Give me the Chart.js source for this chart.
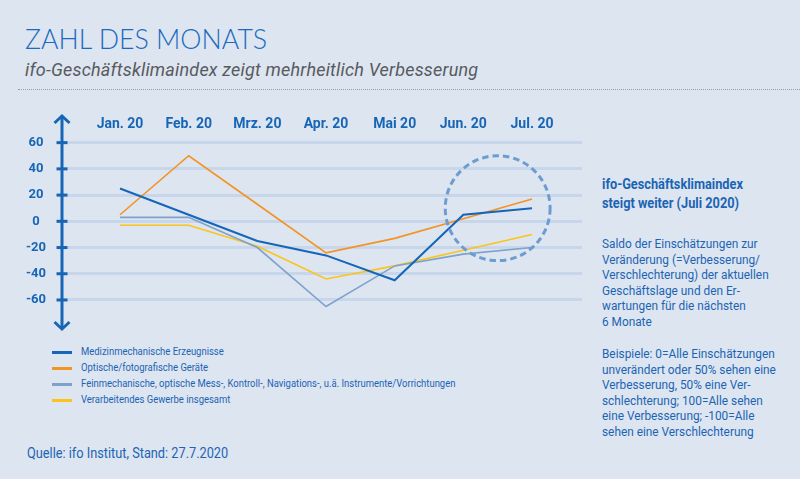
<!DOCTYPE html>
<html lang="de">
<head>
<meta charset="utf-8">
<title>Zahl des Monats</title>
<script src="https://cdn.jsdelivr.net/npm/chart.js@4"></script>
<style>
  html, body { margin: 0; padding: 0; }
  body {
    width: 800px; height: 479px; overflow: hidden; position: relative;
    background: #dde5f0; font-family: Roboto, "Noto Sans", sans-serif; color: #1b64b4;
  }
  .abs { position: absolute; white-space: nowrap; }
  #title { left: 25px; top: 24px; font-family: Lato, sans-serif; font-weight: 300; font-size: 28px; line-height: 28px; color: #1a6bbf; transform: scaleX(0.955); transform-origin: left top; }
  #subtitle { left: 25px; top: 59px; font-size: 18px; line-height: 22px; font-style: italic; color: #585a5e; letter-spacing: 0.2px; }
  #rule { left: 18px; top: 89px; width: 782px; border-top: 1px dotted #9a9ea4; }
  #chart { left: 0; top: 100px; }
  #legend { left: 52px; top: 344px; font-size: 11px; line-height: 16px; }
  #legend .row { display: flex; align-items: center; height: 16px; }
  #legend .swatch { width: 20px; height: 3px; margin-right: 9px; }
  #legend .lbl { display: inline-block; transform: scaleX(0.86); transform-origin: left center; }
  #side { left: 602px; top: 175px; }
  #side h2 { margin: 0 0 24px 0; font-size: 14.5px; line-height: 19px; font-weight: bold; transform: scaleX(0.88); transform-origin: left top; }
  #side p { margin: 0 0 16.5px 0; font-size: 12.3px; line-height: 15.6px; transform: scaleX(0.962); transform-origin: left top; }
  #source { left: 27px; top: 444px; font-size: 15px; line-height: 18px; transform: scaleX(0.85); transform-origin: left top; }
</style>
</head>
<body>
<div id="title" class="abs">ZAHL DES MONATS</div>
<div id="subtitle" class="abs">ifo-Geschäftsklimaindex zeigt mehrheitlich Verbesserung</div>
<div id="rule" class="abs"></div>
<canvas id="chart" class="abs" width="590" height="240"></canvas>
<div id="legend" class="abs"></div>
<div id="side" class="abs">
  <h2>ifo-Geschäftsklimaindex<br>steigt weiter (Juli 2020)</h2>
  <p>Saldo der Einschätzungen zur<br>Veränderung (=Verbesserung/<br>Verschlechterung) der aktuellen<br>Geschäftslage und den Er-<br>wartungen für die nächsten<br>6 Monate</p>
  <p>Beispiele: 0=Alle Einschätzungen<br>unverändert oder 50% sehen eine<br>Verbesserung, 50% eine Ver-<br>schlechterung; 100=Alle sehen<br>eine Verbesserung; -100=Alle<br>sehen eine Verschlechterung</p>
</div>
<div id="source" class="abs">Quelle: ifo Institut, Stand: 27.7.2020</div>

<script>
// months and index values (Saldo)
const months = ['Jan. 20', 'Feb. 20', 'Mrz. 20', 'Apr. 20', 'Mai 20', 'Jun. 20', 'Jul. 20'];
const yTicks = [-60, -40, -20, 0, 20, 40, 60];

const seriesNames = [
  'Medizinmechanische Erzeugnisse',
  'Optische/fotografische Geräte',
  'Feinmechanische, optische Mess-, Kontroll-, Navigations-, u.ä. Instrumente/Vorrichtungen',
  'Verarbeitendes Gewerbe insgesamt'
];
const medizin = [25, 5, -15, -26, -45, 5, 10];
const optisch = [5, 50, 13, -24, -13, 2, 17];
const feinmech = [3, 3, -20, -65, -34, -25, -20];
const gewerbe = [-3, -3, -19, -44, -34, -22, -10];

// highlighted area (month index, value, radius in value units)
const highlight = { x: 5.5, y: 10, r: 40 };

const seriesColors = ['#1565b8', '#f39322', '#7ea2cc', '#fcc419'];
const seriesWidths = [2, 1.6, 1.6, 1.6];
const axisBlue = '#1766b6';

const allSeries = [medizin, optisch, feinmech, gewerbe];

// html legend
const legendEl = document.getElementById('legend');
seriesNames.forEach((name, i) => {
  const row = document.createElement('div');
  row.className = 'row';
  row.innerHTML = `<span class="swatch" style="background:${seriesColors[i]}"></span><span class="lbl">${name}</span>`;
  legendEl.appendChild(row);
});

// arrow axis, tick marks and dashed circle
const decorations = {
  id: 'decorations',
  afterDatasetsDraw(chart) {
    const { ctx, scales: { x, y } } = chart;
    const cx = x.getPixelForValue(highlight.x);
    const cy = y.getPixelForValue(highlight.y);
    const r = Math.abs(y.getPixelForValue(highlight.y + highlight.r) - cy);
    ctx.save();
    ctx.strokeStyle = '#6c9dd0';
    ctx.lineWidth = 3;
    ctx.setLineDash([6.5, 4]);
    ctx.beginPath();
    ctx.arc(cx, cy, r, 0, Math.PI * 2);
    ctx.stroke();
    ctx.restore();
  },
  afterDraw(chart) {
    const { ctx, chartArea, scales: { y } } = chart;
    const ax = chartArea.left;
    const top = 15, bottom = chartArea.bottom;
    ctx.save();
    ctx.strokeStyle = axisBlue;
    ctx.lineWidth = 3;
    ctx.lineCap = 'butt';
    ctx.beginPath();
    ctx.moveTo(ax, top + 1);
    ctx.lineTo(ax, bottom - 1);
    ctx.stroke();
    ctx.lineJoin = 'miter';
    ctx.beginPath();
    ctx.moveTo(ax - 7.5, top + 8);
    ctx.lineTo(ax, top + 1);
    ctx.lineTo(ax + 7.5, top + 8);
    ctx.moveTo(ax - 7.5, bottom - 8);
    ctx.lineTo(ax, bottom - 1);
    ctx.lineTo(ax + 7.5, bottom - 8);
    ctx.stroke();
    yTicks.forEach(v => {
      const py = y.getPixelForValue(v);
      ctx.beginPath();
      ctx.moveTo(ax - 5.5, py);
      ctx.lineTo(ax + 5.5, py);
      ctx.stroke();
    });
    ctx.restore();
  }
};

new Chart(document.getElementById('chart'), {
  type: 'line',
  data: {
    datasets: allSeries.map((vals, i) => ({
      label: seriesNames[i],
      data: vals.map((v, k) => ({ x: k, y: v })),
      borderColor: seriesColors[i],
      borderWidth: seriesWidths[i],
      pointRadius: 0,
      tension: 0,
      fill: false
    }))
  },
  options: {
    responsive: false,
    animation: false,
    devicePixelRatio: 1,
    layout: { padding: { top: 0, right: 8, bottom: 10, left: 0 } },
    plugins: { legend: { display: false }, tooltip: { enabled: false } },
    scales: {
      x: {
        type: 'linear',
        position: 'top',
        min: -0.845,
        max: 6.728,
        afterFit: s => { s.height = 34; s.paddingLeft = 0; s.paddingRight = 0; },
        afterBuildTicks: s => { s.ticks = months.map((_, i) => ({ value: i })); },
        grid: { display: false, drawTicks: false },
        border: { display: false },
        ticks: {
          padding: 1.5,
          color: axisBlue,
          font: { family: 'Roboto', size: 14, weight: 'bold' },
          callback: v => months[v]
        }
      },
      y: {
        min: -82.9,
        max: 66.6,
        afterFit: s => { s.width = 62; s.paddingTop = 0; s.paddingBottom = 0; },
        afterBuildTicks: s => { s.ticks = yTicks.map(v => ({ value: v })); },
        grid: { color: '#c7d6ea', lineWidth: 3, drawTicks: false },
        border: { display: false },
        ticks: {
          padding: 16,
          crossAlign: 'center',
          color: axisBlue,
          font: { family: 'Roboto', size: 13, weight: 'bold' }
        }
      }
    }
  },
  plugins: [decorations]
});
</script>
</body>
</html>
